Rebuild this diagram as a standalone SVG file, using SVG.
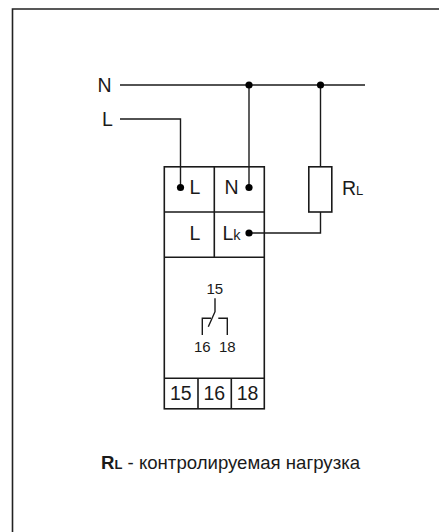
<svg xmlns="http://www.w3.org/2000/svg" width="439" height="532" viewBox="0 0 439 532">
<style>
.l{fill:none;stroke:#1a1a1a;stroke-width:1.400}
.b{fill:none;stroke:#1a1a1a;stroke-width:1.600}
.d{fill:#000}
text{font-family:"Liberation Sans",Arial,sans-serif;fill:#1a1a1a}
.t{font-size:19.500px}
.s{font-size:13px}
.m{font-size:15px}
</style>
<rect width="439" height="532" fill="#fff"/>
<path id="frame" d="M12.500 532V9H439" fill="none" stroke="#222" stroke-width="1.600"/>
<g id="connectors">
<path class="l" d="M120 85H365"/>
<path class="l" d="M120 119H180.500V187"/>
<path class="l" d="M249 85V187"/>
<path class="l" d="M320.500 85V167"/>
<path class="l" d="M320.500 212V233H249"/>
<circle class="d" cx="249" cy="85" r="3.600"/>
<circle class="d" cx="320.500" cy="85" r="3.600"/>
</g>
<g id="supply-labels">
<text class="t" x="97.500" y="92">N</text>
<text class="t" x="102" y="125.500">L</text>
</g>
<g id="device">
<rect class="b" x="164.300" y="166.800" width="100" height="242"/>
<path class="b" d="M164.300 212H264.300M214.300 166.800V257.300M164.300 257.300H264.300M164.300 378.300H264.300M198 378.300V408.800M231.300 378.300V408.800"/>
<circle class="d" cx="180.500" cy="187.500" r="3.600"/>
<circle class="d" cx="249" cy="187.500" r="3.600"/>
<circle class="d" cx="249" cy="233" r="3.600"/>
<text class="t" x="189.500" y="194">L</text>
<text class="t" x="224.500" y="194">N</text>
<text class="t" x="189.500" y="240">L</text>
<text class="t" x="222.500" y="240">L<tspan font-size="14.500">k</tspan></text>
<text class="m" x="206.500" y="294">15</text>
<path class="l" d="M215 298.300V311.700L208.300 326.700M202.300 335V318.300H211M218.300 318.300H227.300V335"/>
<text class="m" x="194" y="351.700">16</text>
<text class="m" x="219" y="351.700">18</text>
<text class="t" x="170" y="399.500">15</text>
<text class="t" x="203.500" y="399.500">16</text>
<text class="t" x="236.700" y="399.500">18</text>
</g>
<g id="load">
<rect class="b" x="308.800" y="166.800" width="23" height="45.200"/>
<text class="t" x="342" y="195">R<tspan class="s">L</tspan></text>
</g>
<text id="legend" x="101" y="469.300" font-size="18.600"><tspan font-weight="bold">R<tspan font-size="13">L</tspan></tspan> - контролируемая нагрузка</text>
</svg>
